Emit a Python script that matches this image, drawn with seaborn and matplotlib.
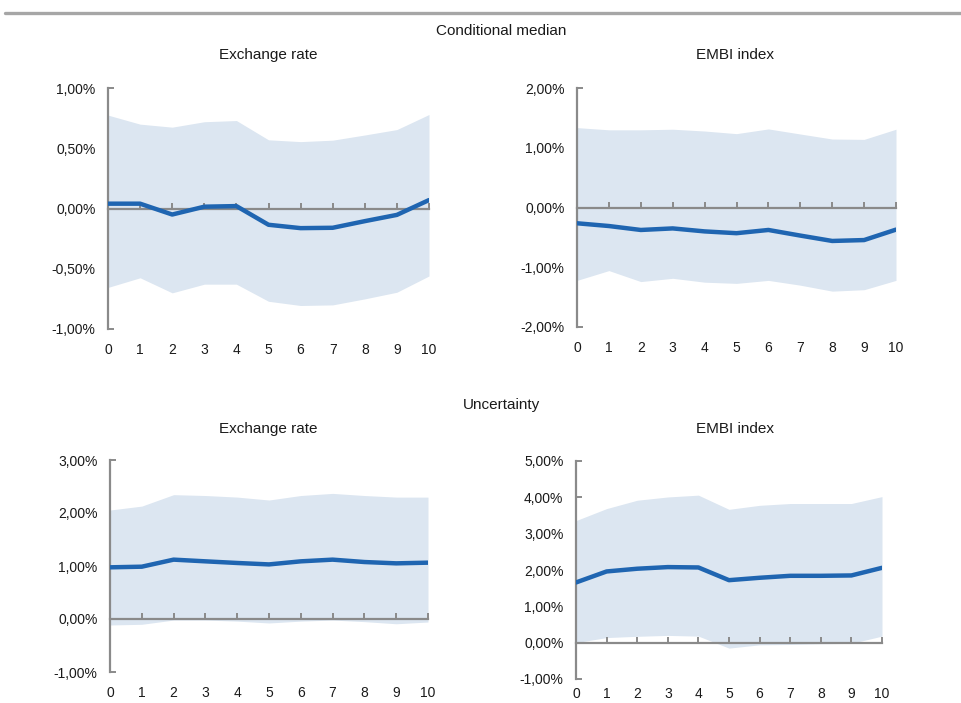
import numpy as np
import pandas as pd
import matplotlib
matplotlib.use("Agg")
import matplotlib.pyplot as plt
from matplotlib import font_manager
from matplotlib.ticker import FuncFormatter, MultipleLocator
from matplotlib.lines import Line2D
import seaborn as sns

# Impulse responses (in %) over a 0-10 horizon, with their confidence bands
horizon = list(range(11))

fx_median = [0.04, 0.04, -0.05, 0.015, 0.02, -0.135, -0.163, -0.16, -0.105, -0.053, 0.07]
fx_median_hi = [0.775, 0.70, 0.675, 0.72, 0.73, 0.57, 0.555, 0.567, 0.61, 0.655, 0.78]
fx_median_lo = [-0.655, -0.575, -0.70, -0.628, -0.628, -0.77, -0.805, -0.80, -0.75, -0.695, -0.56]

embi_median = [-0.264, -0.31, -0.376, -0.35, -0.40, -0.43, -0.376, -0.47, -0.56, -0.545, -0.37]
embi_median_hi = [1.337, 1.30, 1.30, 1.31, 1.28, 1.236, 1.315, 1.23, 1.146, 1.14, 1.31]
embi_median_lo = [-1.22, -1.056, -1.24, -1.185, -1.25, -1.27, -1.22, -1.30, -1.40, -1.376, -1.22]

fx_unc = [0.975, 0.987, 1.12, 1.088, 1.057, 1.03, 1.088, 1.12, 1.075, 1.05, 1.063]
fx_unc_hi = [2.056, 2.13, 2.346, 2.33, 2.30, 2.245, 2.33, 2.37, 2.33, 2.30, 2.30]
fx_unc_lo = [-0.113, -0.10, -0.02, -0.02, -0.04, -0.075, -0.04, -0.02, -0.05, -0.09, -0.057]

embi_unc = [1.657, 1.96, 2.035, 2.08, 2.07, 1.72, 1.786, 1.84, 1.84, 1.85, 2.06]
embi_unc_hi = [3.36, 3.69, 3.92, 4.01, 4.06, 3.67, 3.78, 3.83, 3.83, 3.83, 4.02]
embi_unc_lo = [0.0, 0.14, 0.175, 0.20, 0.18, -0.15, -0.06, -0.05, -0.03, -0.02, 0.18]

section_titles = ["Conditional median", "Uncertainty"]
panel_titles = ["Exchange rate", "EMBI index"]

sns.set_theme(style="white")
names = {f.name for f in font_manager.fontManager.ttflist}
if "Liberation Sans Narrow" in names:
    family, title_size, tick_size = "Liberation Sans Narrow", 13, 11
else:
    family, title_size, tick_size = "Liberation Sans", 11, 10
plt.rcParams["font.family"] = [family, "DejaVu Sans"]

LINE = "#1f65b1"
BAND = "#dce6f1"
AXIS = "#8a8a8a"
TEXT = "#1a1a1a"

W, H = 961, 703
fig = plt.figure(figsize=(W / 100, H / 100), dpi=100)


def px_axes(left, top, right, bottom):
    return fig.add_axes([left / W, 1 - bottom / H, (right - left) / W, (bottom - top) / H])


def pct(v, _):
    return f"{v:.2f}%".replace(".", ",")


def panel(ax, med, lo, hi, ylim, step, xpad=10):
    df = pd.DataFrame({"h": horizon, "med": med, "lo": lo, "hi": hi})
    ax.fill_between(df["h"], df["lo"], df["hi"], color=BAND, lw=0, zorder=1)
    sns.lineplot(data=df, x="h", y="med", ax=ax, color=LINE, lw=3.2, zorder=3)
    ax.set_xlim(0, 10)
    ax.set_ylim(*ylim)
    ax.set_xlabel("")
    ax.set_ylabel("")
    ax.set_facecolor("none")
    for s in ["top", "right", "bottom"]:
        ax.spines[s].set_visible(False)
    ax.spines["left"].set_color(AXIS)
    ax.spines["left"].set_linewidth(1.6)
    ax.yaxis.set_major_locator(MultipleLocator(step))
    ax.yaxis.set_major_formatter(FuncFormatter(pct))
    ax.set_xticks(horizon)
    ax.tick_params(axis="y", direction="in", length=4, width=1.4, color=AXIS,
                   labelsize=tick_size, labelcolor=TEXT, pad=9, left=True)
    ax.tick_params(axis="x", length=0, labelsize=tick_size, labelcolor=TEXT, pad=xpad)
    ax.grid(False)
    # zero line carrying the horizon ticks
    frac = (0 - ylim[0]) / (ylim[1] - ylim[0])
    sec = ax.secondary_xaxis(frac)
    sec.set_alignment("bottom")
    sec.set_xticks(horizon)
    sec.tick_params(axis="x", direction="in", length=4, width=1.4, color=AXIS,
                    labelbottom=False, labeltop=False)
    sec.spines["bottom"].set_color(AXIS)
    sec.spines["bottom"].set_linewidth(1.6)
    sec.set_zorder(2)


ax1 = px_axes(108, 88, 429, 329)
panel(ax1, fx_median, fx_median_lo, fx_median_hi, (-1.0, 1.0), 0.5)
ax2 = px_axes(577, 88, 896, 327)
panel(ax2, embi_median, embi_median_lo, embi_median_hi, (-2.0, 2.0), 1.0)
ax3 = px_axes(110, 460, 428, 672)
panel(ax3, fx_unc, fx_unc_lo, fx_unc_hi, (-1.0, 3.0), 1.0)
ax4 = px_axes(576, 461, 882, 679)
panel(ax4, embi_unc, embi_unc_lo, embi_unc_hi, (-1.0, 5.0), 1.0, xpad=6)

# header rule and titles
fig.add_artist(Line2D([5 / W, 1.0], [1 - 13 / H, 1 - 13 / H], color="#a6a6a6", lw=2.4))


def ftext(x, y, s):
    fig.text(x / W, 1 - y / H, s, ha="center", va="baseline", fontsize=title_size, color=TEXT)


ftext(501, 35, section_titles[0])
ftext(268, 58.7, panel_titles[0])
ftext(735, 58.7, panel_titles[1])
ftext(501, 409, section_titles[1])
ftext(268, 432.7, panel_titles[0])
ftext(735, 432.7, panel_titles[1])

fig.savefig("out.png", dpi=100, facecolor="white")
